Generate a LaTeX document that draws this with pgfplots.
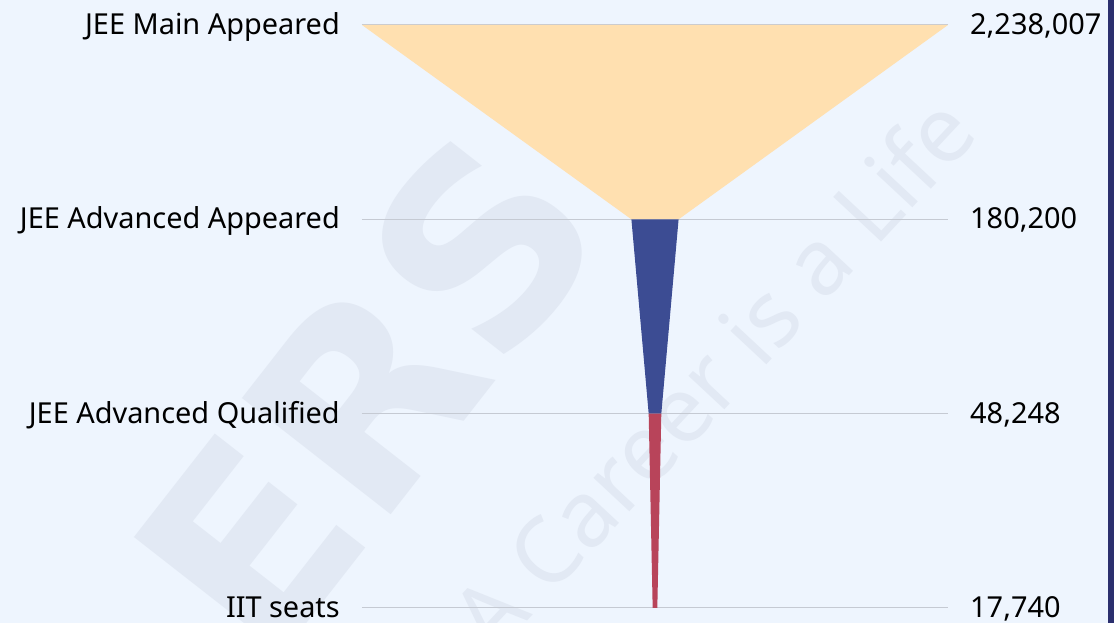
\documentclass[border=0pt]{standalone}
\usepackage{pgfplots}
\pgfplotsset{compat=1.18}
\usepackage{fontspec}
\setmainfont{Noto Sans}
\newfontfamily\wmfont{DejaVu Sans}
\definecolor{bg}{HTML}{EEF5FE}
\definecolor{fyellow}{HTML}{FFE0B0}
\definecolor{fblue}{HTML}{3C4C93}
\definecolor{fred}{HTML}{B8445A}
\definecolor{gridc}{HTML}{C5CAD3}
\definecolor{wm}{HTML}{E2E9F4}
\definecolor{navy}{HTML}{2B2F6E}
\begin{document}
\begin{tikzpicture}[x=1bp,y=1bp]
\fill[bg] (-362,-15) rectangle (752,608);
\begin{scope}
\clip (-362,-15) rectangle (752,608);
\node[text=wm, rotate=52, font=\wmfont\bfseries\fontsize{260}{260}\selectfont] at (5,215) {ERS};
\node[text=wm, rotate=47, font=\fontsize{92}{92}\selectfont] at (350,235) {A Career is a Life};
\end{scope}
\begin{axis}[at={(0,0)}, anchor=south west, scale only axis, width=586bp, height=583bp,
 xmin=-1119003.5, xmax=1119003.5, ymin=0, ymax=3,
 axis line style={draw=none}, xtick=\empty, ytick={0,1,2,3}, yticklabels={}, major tick length=0pt,
 ymajorgrids, grid style={gridc, line width=1bp}, clip=false]
\addplot[fill=fyellow, draw=none] coordinates {(-1119003.5,3) (1119003.5,3) (90100,2) (-90100,2)} -- cycle;
\addplot[fill=fblue, draw=none] coordinates {(-90100,2) (90100,2) (24124,1) (-24124,1)} -- cycle;
\addplot[fill=fred, draw=none] coordinates {(-24124,1) (24124,1) (8870,0) (-8870,0)} -- cycle;
\begin{scope}[every node/.style={font=\fontsize{29}{33}\selectfont, inner sep=0pt}]
\node[anchor=base east, xshift=-22bp, yshift=-9.5bp] at (axis cs:-1119003.5,3) {JEE Main Appeared};
\node[anchor=base east, xshift=-22bp, yshift=-9.5bp] at (axis cs:-1119003.5,2) {JEE Advanced Appeared};
\node[anchor=base east, xshift=-22bp, yshift=-9.5bp] at (axis cs:-1119003.5,1) {JEE Advanced Qualified};
\node[anchor=base east, xshift=-22bp, yshift=-9.5bp] at (axis cs:-1119003.5,0) {IIT seats};
\node[anchor=base west, xshift=22bp, yshift=-9.5bp] at (axis cs:1119003.5,3) {2,238,007};
\node[anchor=base west, xshift=22bp, yshift=-9.5bp] at (axis cs:1119003.5,2) {180,200};
\node[anchor=base west, xshift=22bp, yshift=-9.5bp] at (axis cs:1119003.5,1) {48,248};
\node[anchor=base west, xshift=22bp, yshift=-9.5bp] at (axis cs:1119003.5,0) {17,740};
\end{scope}
\end{axis}
\fill[navy] (746,-15) rectangle (752,608);
\pgfresetboundingbox
\path[use as bounding box] (-362,-15) rectangle (752,608);
\end{tikzpicture}
\end{document}
